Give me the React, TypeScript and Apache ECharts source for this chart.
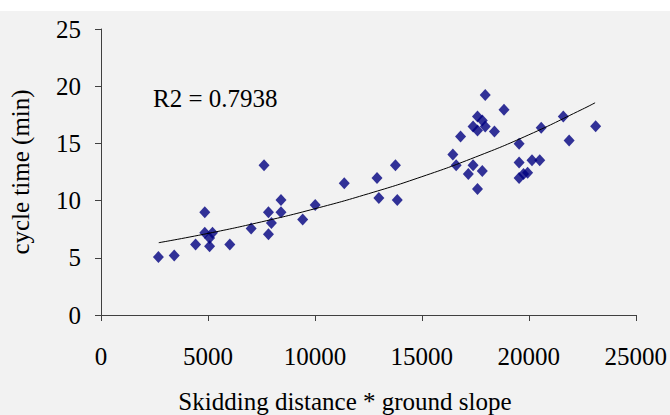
import React, { useEffect, useRef } from "react";
import * as echarts from "echarts";

const xValues = [
  2684, 3424, 4422, 4852, 4852, 5076, 5213, 5076, 6022, 7020, 7622, 7829, 7829, 7966, 8414, 8414,
  9429, 10014, 11373, 12904, 12990, 13765, 13851, 16449, 16604, 16810, 17172, 17395, 17395, 17602,
  17602, 17826, 17963, 17963, 17826, 17602, 18394, 18841, 19547, 19547, 19547, 19754, 19944, 20150,
  20511, 20580, 21613, 21886, 23125,
];
const yValues = [
  5.06, 5.2, 6.16, 8.98, 7.18, 6.72, 7.18, 6.02, 6.16, 7.56, 13.08, 8.98, 7.06, 8.05, 10.06, 8.98,
  8.34, 9.62, 11.51, 11.98, 10.23, 13.08, 10.06, 14.04, 13.08, 15.61, 12.33, 13.08, 16.48, 17.35,
  16.13, 17.0, 16.48, 19.22, 12.59, 11.02, 16.05, 17.94, 14.97, 13.34, 11.98, 12.33, 12.44, 13.52,
  13.52, 16.37, 17.35, 15.26, 16.51,
];
const trendX = [2700, 5000, 7500, 10000, 12500, 15000, 17500, 20000, 22500, 23100];
const trendY = [6.32, 7.13, 8.14, 9.29, 10.6, 12.09, 13.8, 15.75, 17.98, 18.55];
const xTicks = [0, 5000, 10000, 15000, 20000, 25000];
const yTicks = [0, 5, 10, 15, 20, 25];
const r2Label = "R2 = 0.7938";
const xTitle = "Skidding distance * ground slope";
const yTitle = "cycle time (min)";

const FONT = "'Liberation Serif', 'Times New Roman', serif";
const FS = 25;

export default function App() {
  const ref = useRef<HTMLDivElement>(null);
  useEffect(() => {
    if (!ref.current) return;
    const chart = echarts.init(ref.current, undefined, { renderer: "svg" });
    const axisCommon = {
      axisLine: { show: true, lineStyle: { color: "#404040", width: 1 } },
      axisTick: { show: true, length: 6, lineStyle: { color: "#404040" } },
      splitLine: { show: false },
      nameTextStyle: { fontFamily: FONT, fontSize: FS, color: "#000" },
    };
    chart.setOption({
      animation: false,
      backgroundColor: "#ffffff",
      graphic: [
        {
          type: "rect",
          z: -10,
          silent: true,
          shape: { x: 0, y: 11, width: 670, height: 404 },
          style: { fill: "#f2f2f2" },
        },
        {
          type: "text",
          left: 153,
          top: 86,
          style: { text: r2Label, font: `${FS}px ${FONT}`, fill: "#000" },
        },
        {
          type: "text",
          x: 345,
          y: 401,
          style: {
            text: xTitle,
            font: `${FS}px ${FONT}`,
            fill: "#000",
            align: "center",
            verticalAlign: "middle",
          },
        },
      ],
      grid: { left: 100, right: 32, top: 29, bottom: 100, containLabel: false },
      xAxis: {
        type: "value",
        min: xTicks[0],
        max: xTicks[xTicks.length - 1],
        interval: xTicks[1] - xTicks[0],
        axisLabel: {
          fontFamily: FONT,
          fontSize: FS,
          color: "#000",
          margin: 29,
          formatter: (v: number) => String(v),
        },
        ...axisCommon,
      },
      yAxis: {
        type: "value",
        min: yTicks[0],
        max: yTicks[yTicks.length - 1],
        interval: yTicks[1] - yTicks[0],
        name: yTitle,
        nameLocation: "middle",
        nameGap: 68,
        axisLabel: {
          fontFamily: FONT,
          fontSize: FS,
          color: "#000",
          margin: 20,
          formatter: (v: number) => String(v),
        },
        ...axisCommon,
      },
      series: [
        {
          type: "scatter",
          data: xValues.map((x, i) => [x, yValues[i]]),
          symbol: "diamond",
          symbolSize: [11, 12],
          itemStyle: { color: "#000080" },
          z: 3,
        },
        {
          type: "line",
          data: trendX.map((x, i) => [x, trendY[i]]),
          smooth: true,
          showSymbol: false,
          lineStyle: { color: "#000", width: 1 },
          z: 4,
        },
      ],
    });
    return () => chart.dispose();
  }, []);
  return (
    <div
      ref={ref}
      style={{ position: "fixed", left: 0, top: 0, width: 670, height: 415 }}
    />
  );
}
